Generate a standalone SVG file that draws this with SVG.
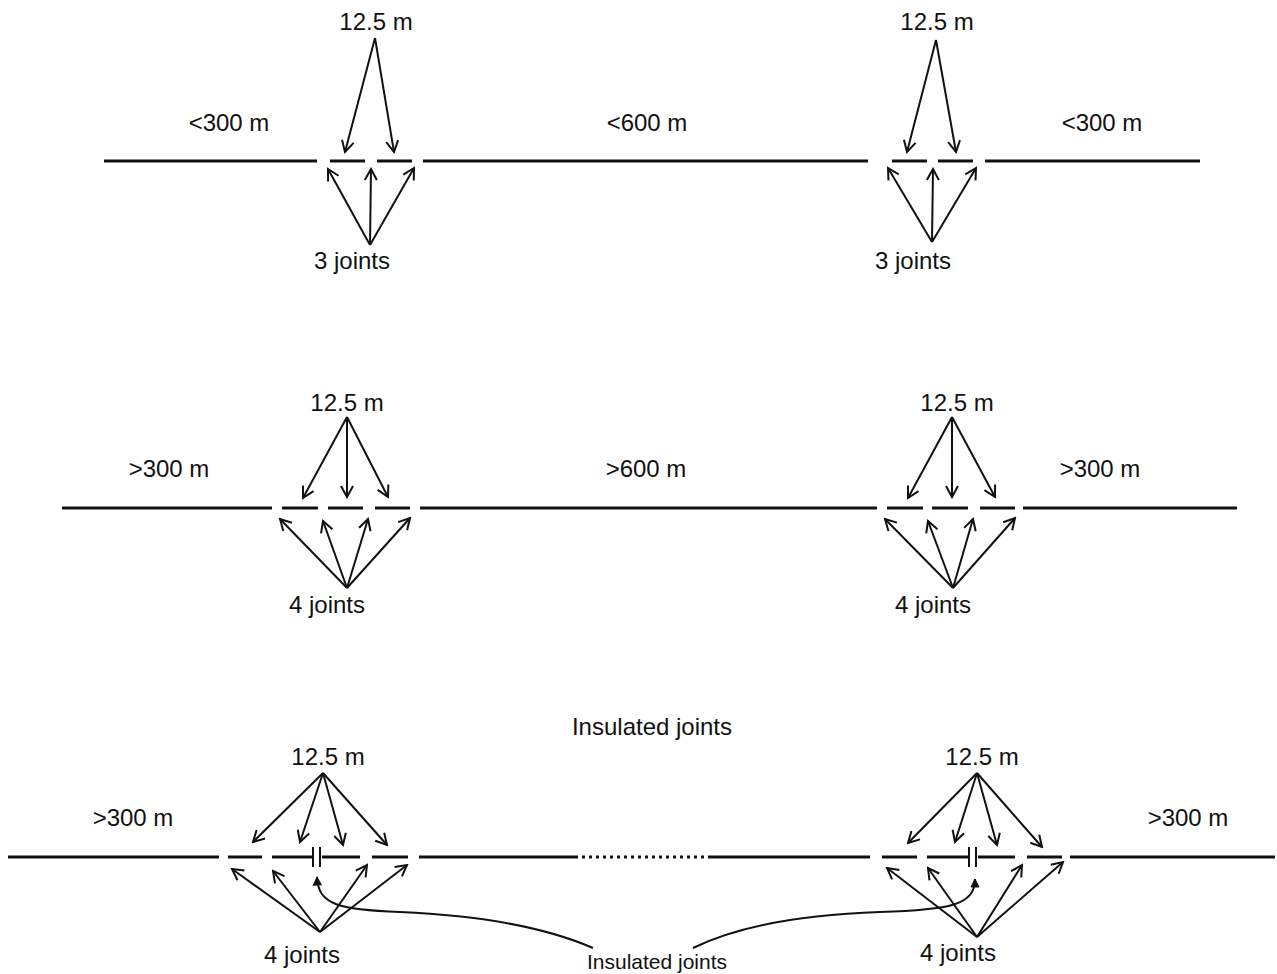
<svg xmlns="http://www.w3.org/2000/svg" width="1277" height="974" viewBox="0 0 1277 974">
<defs>
<marker id="ah" markerUnits="userSpaceOnUse" markerWidth="16" markerHeight="16" viewBox="0 0 16 16" refX="14" refY="8" orient="auto">
<path d="M3,2 L14,8 L3,14" fill="none" stroke="#111" stroke-width="2"/>
</marker>
<marker id="ahs" markerUnits="userSpaceOnUse" markerWidth="12" markerHeight="12" viewBox="0 0 12 12" refX="10" refY="6" orient="auto">
<path d="M2,2 L10,6 L2,10 Z" fill="#111" stroke="#111" stroke-width="1"/>
</marker>
</defs>
<style>
.t{font-family:"Liberation Sans",Arial,sans-serif;font-size:24px;fill:#111;text-anchor:middle}
.ts{font-family:"Liberation Sans",Arial,sans-serif;font-size:21px;fill:#111;text-anchor:middle}
.rail{stroke:#111;stroke-width:3;fill:none}
.ar{stroke:#111;stroke-width:2;fill:none;marker-end:url(#ah)}
.cv{stroke:#111;stroke-width:2;fill:none;marker-end:url(#ahs)}
</style>
<rect width="1277" height="974" fill="#fff"/>

<g id="row1">
<g id="rail1" class="rail">
<line x1="104" y1="161" x2="317" y2="161"/>
<line x1="330" y1="161" x2="365" y2="161"/>
<line x1="377" y1="161" x2="412" y2="161"/>
<line x1="423" y1="161" x2="868" y2="161"/>
<line x1="892" y1="161" x2="927" y2="161"/>
<line x1="938" y1="161" x2="973" y2="161"/>
<line x1="985" y1="161" x2="1200" y2="161"/>
</g>
<text class="t" x="229" y="131">&lt;300 m</text>
<text class="t" x="647" y="131">&lt;600 m</text>
<text class="t" x="1102" y="131">&lt;300 m</text>
<text class="t" x="376" y="30">12.5 m</text>
<text class="t" x="937" y="30">12.5 m</text>
<text class="t" x="352" y="269">3 joints</text>
<text class="t" x="913" y="269">3 joints</text>
</g>

<g id="row2">
<g id="rail2" class="rail">
<line x1="62" y1="508" x2="272" y2="508"/>
<line x1="282" y1="508" x2="318" y2="508"/>
<line x1="328" y1="508" x2="363" y2="508"/>
<line x1="375" y1="508" x2="410" y2="508"/>
<line x1="420" y1="508" x2="877" y2="508"/>
<line x1="887" y1="508" x2="923" y2="508"/>
<line x1="932" y1="508" x2="968" y2="508"/>
<line x1="980" y1="508" x2="1015" y2="508"/>
<line x1="1023" y1="508" x2="1237" y2="508"/>
</g>
<text class="t" x="169" y="477">&gt;300 m</text>
<text class="t" x="646" y="477">&gt;600 m</text>
<text class="t" x="1100" y="477">&gt;300 m</text>
<text class="t" x="347" y="411">12.5 m</text>
<text class="t" x="957" y="411">12.5 m</text>
<text class="t" x="327" y="613">4 joints</text>
<text class="t" x="933" y="613">4 joints</text>
</g>

<g id="row3">
<g id="rail3" class="rail">
<line x1="8" y1="857" x2="219" y2="857"/>
<line x1="228" y1="857" x2="262" y2="857"/>
<line x1="272" y1="857" x2="312" y2="857"/>
<line x1="322" y1="857" x2="360" y2="857"/>
<line x1="372" y1="857" x2="408" y2="857"/>
<line x1="419" y1="857" x2="578" y2="857"/>
<line x1="582" y1="857" x2="705" y2="857" stroke-dasharray="3,4"/>
<line x1="708" y1="857" x2="870" y2="857"/>
<line x1="882" y1="857" x2="917" y2="857"/>
<line x1="927" y1="857" x2="968" y2="857"/>
<line x1="978" y1="857" x2="1015" y2="857"/>
<line x1="1027" y1="857" x2="1062" y2="857"/>
<line x1="1070" y1="857" x2="1275" y2="857"/>
</g>
<g id="insulators" stroke="#111" stroke-width="2">
<line x1="313" y1="847" x2="313" y2="867"/>
<line x1="320" y1="847" x2="320" y2="867"/>
<line x1="969" y1="847" x2="969" y2="867"/>
<line x1="976" y1="847" x2="976" y2="867"/>
</g>
<text class="t" x="652" y="735">Insulated joints</text>
<text class="t" x="133" y="826">&gt;300 m</text>
<text class="t" x="1188" y="826">&gt;300 m</text>
<text class="t" x="328" y="765">12.5 m</text>
<text class="t" x="982" y="765">12.5 m</text>
<text class="t" x="302" y="963">4 joints</text>
<text class="t" x="958" y="961">4 joints</text>
<text class="ts" x="657" y="969">Insulated joints</text>
</g>

<g id="connectors">
<line class="ar" x1="375" y1="38" x2="345" y2="152"/>
<line class="ar" x1="375" y1="38" x2="394" y2="152"/>
<line class="ar" x1="370" y1="245" x2="328" y2="169"/>
<line class="ar" x1="370" y1="245" x2="371" y2="169"/>
<line class="ar" x1="370" y1="245" x2="414" y2="168"/>
<line class="ar" x1="936" y1="40" x2="907" y2="152"/>
<line class="ar" x1="936" y1="40" x2="956" y2="152"/>
<line class="ar" x1="932" y1="242" x2="888" y2="168"/>
<line class="ar" x1="932" y1="242" x2="933" y2="169"/>
<line class="ar" x1="932" y1="242" x2="976" y2="168"/>

<line class="ar" x1="347" y1="417" x2="303" y2="498"/>
<line class="ar" x1="347" y1="417" x2="347" y2="497"/>
<line class="ar" x1="347" y1="417" x2="388" y2="497"/>
<line class="ar" x1="347" y1="588" x2="280" y2="519"/>
<line class="ar" x1="347" y1="588" x2="323" y2="521"/>
<line class="ar" x1="347" y1="588" x2="368" y2="519"/>
<line class="ar" x1="347" y1="588" x2="410" y2="518"/>
<line class="ar" x1="952" y1="417" x2="908" y2="498"/>
<line class="ar" x1="952" y1="417" x2="952" y2="497"/>
<line class="ar" x1="952" y1="417" x2="995" y2="497"/>
<line class="ar" x1="953" y1="588" x2="885" y2="519"/>
<line class="ar" x1="953" y1="588" x2="928" y2="521"/>
<line class="ar" x1="953" y1="588" x2="973" y2="519"/>
<line class="ar" x1="953" y1="588" x2="1015" y2="518"/>

<line class="ar" x1="323" y1="773" x2="253" y2="842"/>
<line class="ar" x1="323" y1="773" x2="300" y2="842"/>
<line class="ar" x1="323" y1="773" x2="343" y2="845"/>
<line class="ar" x1="323" y1="773" x2="387" y2="845"/>
<line class="ar" x1="320" y1="932" x2="232" y2="869"/>
<line class="ar" x1="320" y1="932" x2="273" y2="871"/>
<line class="ar" x1="320" y1="932" x2="367" y2="865"/>
<line class="ar" x1="320" y1="932" x2="407" y2="865"/>
<line class="ar" x1="977" y1="773" x2="908" y2="843"/>
<line class="ar" x1="977" y1="773" x2="955" y2="842"/>
<line class="ar" x1="977" y1="773" x2="997" y2="845"/>
<line class="ar" x1="977" y1="773" x2="1042" y2="847"/>
<line class="ar" x1="977" y1="937" x2="887" y2="868"/>
<line class="ar" x1="977" y1="937" x2="928" y2="868"/>
<line class="ar" x1="977" y1="937" x2="1022" y2="865"/>
<line class="ar" x1="977" y1="937" x2="1063" y2="862"/>

<path class="cv" d="M593,948 C540,925 470,915 400,912 C340,910 318,905 317,877"/>
<path class="cv" d="M693,948 C730,930 790,915 880,912 C950,910 975,905 975,879"/>
</g>
</svg>
